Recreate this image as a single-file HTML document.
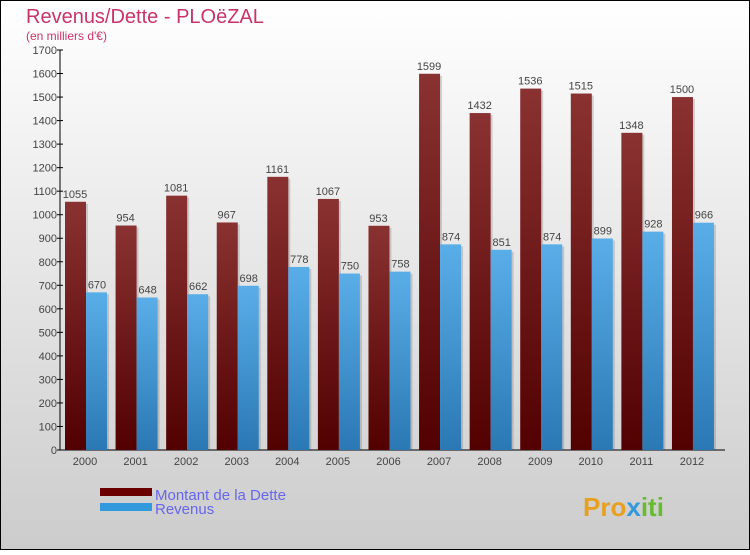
<!DOCTYPE html>
<html><head><meta charset="utf-8"><style>
body{margin:0;width:750px;height:550px;overflow:hidden;font-family:"Liberation Sans",sans-serif}
</style></head><body>
<svg width="750" height="550" xmlns="http://www.w3.org/2000/svg">
<defs>
<linearGradient id="bg" x1="0" y1="0" x2="0" y2="1"><stop offset="0" stop-color="#ffffff"/><stop offset="1" stop-color="#cccccc"/></linearGradient>
<linearGradient id="gd" x1="0" y1="0" x2="0" y2="1"><stop offset="0" stop-color="#8a3232"/><stop offset="1" stop-color="#520000"/></linearGradient>
<linearGradient id="gr" x1="0" y1="0" x2="0" y2="1"><stop offset="0" stop-color="#5aaee8"/><stop offset="1" stop-color="#2a78b4"/></linearGradient>
</defs>
<rect x="0.5" y="0.5" width="749" height="549" fill="url(#bg)" stroke="#000"/>
<text x="26" y="23" font-size="20" fill="#c8346a">Revenus/Dette - PLOëZAL</text>
<text x="26" y="40" font-size="12" fill="#c8346a">(en milliers d'€)</text>
<g id="ax"></g>
<g id="bars"></g>
<rect x="100" y="488" width="52" height="8" fill="#6b0000"/>
<rect x="100" y="503" width="52" height="8" fill="#3399dd"/>
<text x="155" y="500" font-size="15" fill="#6666ee">Montant de la Dette</text>
<text x="155" y="514" font-size="15" fill="#6666ee">Revenus</text>
<text x="583" y="516" font-size="26" font-weight="bold" fill="#e8a020">Pro<tspan fill="#3399dd">x</tspan><tspan fill="#66bb33">iti</tspan></text>
</svg>
<script>
const years=["2000","2001","2002","2003","2004","2005","2006","2007","2008","2009","2010","2011","2012"];
const dette=[1055,954,1081,967,1161,1067,953,1599,1432,1536,1515,1348,1500];
const revenus=[670,648,662,698,778,750,758,874,851,874,899,928,966];
const ticks=[0,100,200,300,400,500,600,700,800,900,1000,1100,1200,1300,1400,1500,1600,1700];
const NS="http://www.w3.org/2000/svg";
const y=v=>450-v*400/1700;
const xc=i=>85+i*50.58;
function mk(t,a,p,txt){const e=document.createElementNS(NS,t);for(const k in a)e.setAttribute(k,a[k]);if(txt!==undefined)e.textContent=txt;p.appendChild(e);return e;}
const ax=document.getElementById('ax'),bars=document.getElementById('bars');
let l=mk('line',{x1:60,y1:50,x2:60,y2:450,stroke:'#000'},ax);


l=mk('line',{x1:60,y1:450,x2:725,y2:450,stroke:'#000'},ax);


ticks.forEach(t=>{
 mk('line',{x1:57,y1:y(t),x2:63,y2:y(t),stroke:'#000'},ax);
 const e=mk('text',{x:57,y:y(t)+4,'font-size':11,fill:'#444','text-anchor':'end'},ax,t);
 
 
});
years.forEach((yr,i)=>{
 const c=xc(i);
 const e=mk('text',{x:c,y:465,'font-size':11,fill:'#444','text-anchor':'middle'},ax,yr);
 
 
 mk('rect',{x:c-20+2,y:y(dette[i])+2,width:21,height:450-y(dette[i])-2,fill:'#000',opacity:0.15},bars);
 const b1=mk('rect',{x:c-20,y:y(dette[i]),width:21,height:450-y(dette[i]),fill:'url(#gd)'},bars);
 
 
 mk('rect',{x:c+1+2,y:y(revenus[i])+2,width:21,height:450-y(revenus[i])-2,fill:'#000',opacity:0.15},bars);
 const b2=mk('rect',{x:c+1,y:y(revenus[i]),width:21,height:450-y(revenus[i]),fill:'url(#gr)'},bars);
 
 
 const t1=mk('text',{x:c-10,y:y(dette[i])-4,'font-size':11,fill:'#444','text-anchor':'middle'},bars,dette[i]);
 
 
 const t2=mk('text',{x:c+12,y:y(revenus[i])-4,'font-size':11,fill:'#444','text-anchor':'middle'},bars,revenus[i]);
 
 
});
</script>
</body></html>
